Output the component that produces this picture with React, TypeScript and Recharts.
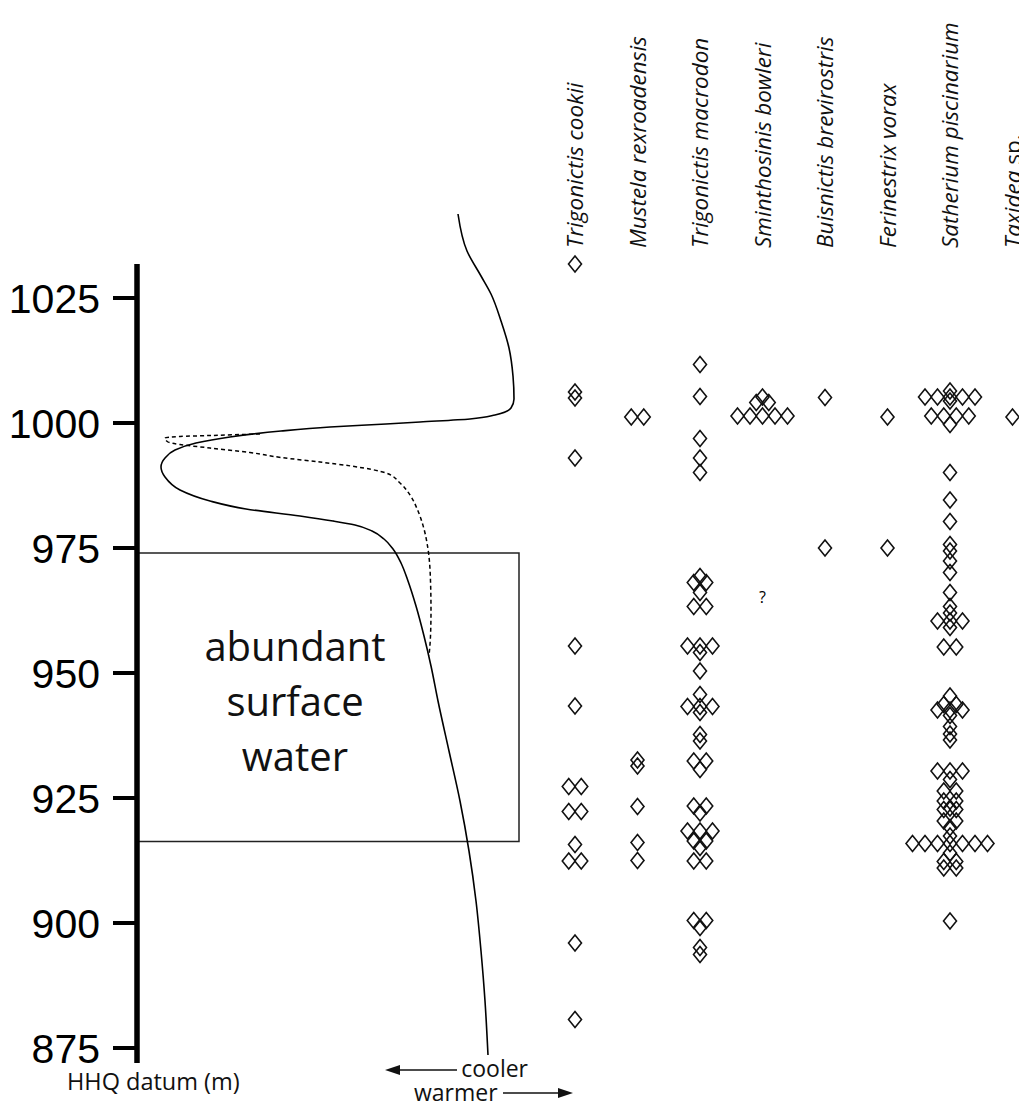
import React from 'react';
import { ScatterChart, Scatter, XAxis, YAxis, ReferenceArea, ReferenceLine, Customized } from 'recharts';

const taxa = [
  'Trigonictis cookii',
  'Mustela rexroadensis',
  'Trigonictis macrodon',
  'Sminthosinis bowleri',
  'Buisnictis brevirostris',
  'Ferinestrix vorax',
  'Satherium piscinarium',
  'Taxidea sp.',
];

// specimen elevations (m above HHQ datum); repeated values sit side by side
const trigonictisCookii = [1031.8, 1006.2, 1005.0, 993.0, 955.4, 943.4, 927.3, 927.3, 922.3, 922.3, 915.7, 912.4, 912.4, 896.0, 880.7];
const mustelaRexroadensis = [1001.2, 1001.2, 932.6, 931.4, 923.3, 916.1, 912.5];
const trigonictisMacrodon = [
  1011.7, 1005.3, 996.9, 993.0, 990.1, 969.3, 968.1, 968.1, 966.1, 963.3, 963.3, 955.4, 955.4, 955.4, 954.1,
  950.4, 945.7, 943.3, 943.3, 943.3, 942.1, 937.7, 936.4, 932.4, 932.4, 930.7, 923.4, 923.4, 922.0, 918.4,
  918.4, 918.4, 916.4, 916.4, 915.1, 912.4, 912.4, 900.5, 900.5, 899.1, 895.1, 893.7,
];
const sminthosinisBowleri = [1005.2, 1004.1, 1004.1, 1001.4, 1001.4, 1001.4, 1001.4, 1001.4];
const buisnictisBrevirostris = [1005.1, 975.0];
const ferinestrixVorax = [1001.2, 975.0];
const satheriumPiscinarium = [
  1006.4, 1005.2, 1005.2, 1005.2, 1005.2, 1005.2, 1004.4, 1001.4, 1001.4, 1001.4, 1001.4, 999.7, 990.1, 984.6,
  980.3, 975.7, 974.4, 972.4, 970.1, 966.1, 963.3, 962.0, 960.4, 960.4, 960.4, 959.1, 955.2, 955.2, 945.4,
  943.7, 943.7, 942.6, 942.6, 942.6, 941.5, 939.3, 937.8, 936.6, 930.4, 930.4, 930.4, 928.7, 926.4, 926.4,
  924.4, 924.4, 923.0, 922.7, 922.7, 920.4, 920.4, 919.1, 917.4, 915.9, 915.9, 915.9, 915.9, 915.9, 915.9,
  915.9, 914.0, 912.3, 912.3, 911.0, 911.0, 900.4,
];
const taxideaSp = [1001.2];

const occurrences = [
  trigonictisCookii,
  mustelaRexroadensis,
  trigonictisMacrodon,
  sminthosinisBowleri,
  buisnictisBrevirostris,
  ferinestrixVorax,
  satheriumPiscinarium,
  taxideaSp,
];

// questionable record
const uncertainRecords = [{ taxon: 3, elev: 965.0 }];

const elevationTicks = [875, 900, 925, 950, 975, 1000, 1025];

// relative temperature index (low = cooler) against elevation
const tempCurve = [
  { t: 32.1, elev: 1041.8 }, { t: 33.0, elev: 1034.4 }, { t: 34.4, elev: 1029.4 }, { t: 35.4, elev: 1025.8 },
  { t: 36.4, elev: 1020.4 }, { t: 37.2, elev: 1015.0 }, { t: 37.6, elev: 1009.4 }, { t: 37.7, elev: 1004.8 },
  { t: 37.4, elev: 1003.0 }, { t: 35.8, elev: 1001.6 }, { t: 33.3, elev: 1000.8 }, { t: 28.3, elev: 1000.2 },
  { t: 24.9, elev: 999.8 }, { t: 19.3, elev: 999.2 }, { t: 14.4, elev: 998.4 }, { t: 9.3, elev: 997.2 },
  { t: 5.9, elev: 996.0 }, { t: 3.8, elev: 994.6 }, { t: 2.8, elev: 993.0 }, { t: 2.4, elev: 991.2 },
  { t: 2.8, elev: 989.2 }, { t: 4.3, elev: 986.6 }, { t: 7.3, elev: 984.4 }, { t: 10.9, elev: 982.8 },
  { t: 16.3, elev: 981.4 }, { t: 19.6, elev: 980.4 }, { t: 21.8, elev: 979.6 }, { t: 23.5, elev: 978.4 },
  { t: 24.7, elev: 976.8 }, { t: 25.6, elev: 974.8 }, { t: 26.4, elev: 972.0 }, { t: 27.1, elev: 968.4 },
  { t: 27.9, elev: 963.4 }, { t: 28.7, elev: 957.4 }, { t: 29.4, elev: 951.4 }, { t: 30.1, elev: 944.4 },
  { t: 31.2, elev: 934.4 }, { t: 32.3, elev: 924.4 }, { t: 33.2, elev: 914.4 }, { t: 33.9, elev: 904.4 },
  { t: 34.4, elev: 894.4 }, { t: 34.8, elev: 884.4 }, { t: 35.1, elev: 873.6 },
];

const tempCurveAlt = [
  { t: 12.3, elev: 997.8 }, { t: 7.3, elev: 997.5 }, { t: 4.3, elev: 997.3 }, { t: 2.8, elev: 997.0 },
  { t: 3.1, elev: 996.2 }, { t: 4.3, elev: 995.7 }, { t: 7.3, elev: 995.0 }, { t: 11.3, elev: 994.1 },
  { t: 14.4, elev: 993.1 }, { t: 18.3, elev: 992.2 }, { t: 21.4, elev: 991.4 }, { t: 24.9, elev: 990.0 },
  { t: 26.3, elev: 988.0 }, { t: 27.3, elev: 985.6 }, { t: 28.1, elev: 982.4 }, { t: 28.7, elev: 978.8 },
  { t: 29.1, elev: 974.8 }, { t: 29.35, elev: 968.4 }, { t: 29.4, elev: 962.4 }, { t: 29.35, elev: 957.4 },
  { t: 29.2, elev: 953.4 },
];

const surfaceWater = { t: 38.2, from: 916.3, to: 974.0 };
const axisTop = 1031.8;

const SANS = '"Open Sans", sans-serif';
const ARIAL = '"Liberation Sans", Arial, sans-serif';

// spread equal elevations sideways so every specimen stays visible
const swarm = (elevs: number[], col: number) => {
  const counts = new Map<number, number>();
  elevs.forEach((e) => counts.set(e, (counts.get(e) || 0) + 1));
  const seen = new Map<number, number>();
  return elevs.map((e) => {
    const n = counts.get(e) || 1;
    const k = seen.get(e) || 0;
    seen.set(e, k + 1);
    return { sx: col + (k - (n - 1) / 2) * 0.2, elev: e };
  });
};

const Diamond = (props: any) => {
  const { cx, cy } = props;
  return (
    <path
      d={`M${cx},${cy - 8}L${cx + 6.5},${cy}L${cx},${cy + 8}L${cx - 6.5},${cy}Z`}
      fill="none"
      stroke="#111"
      strokeWidth={1.6}
    />
  );
};

const Question = (props: any) => (
  <text x={props.cx} y={props.cy + 5} textAnchor="middle" fontSize={16} fontFamily={SANS} fill="#000">?</text>
);

const NoDot = () => <g />;

const TaxonTick = (props: any) => {
  const { x, payload } = props;
  const name = taxa[payload.value];
  if (!name) return null;
  const isSp = name.endsWith(' sp.');
  return (
    <text
      transform={`translate(${x + 8},240) rotate(-90)`}
      fontSize={22.5}
      fontFamily={SANS}
      fontStyle="italic"
      fill="#111"
    >
      {isSp ? name.replace(' sp.', ' ') : name}
      {isSp && <tspan fontStyle="normal">sp.</tspan>}
    </text>
  );
};

const WaterLabel = (props: any) => {
  const vb = props.viewBox || {};
  const cx = vb.x + 158;
  return (
    <text textAnchor="middle" fontSize={40} fontFamily={SANS} fill="#111">
      <tspan x={cx} y={vb.y + 108}>abundant</tspan>
      <tspan x={cx} y={vb.y + 163}>surface</tspan>
      <tspan x={cx} y={vb.y + 218}>water</tspan>
    </text>
  );
};

// axis title and the cooler / warmer key under the plot
const Footer = () => (
  <g fill="#111" fontFamily={SANS}>
    <text x={59} y={1082} fontSize={23.5}>HHQ datum (m)</text>
    <line x1={389} y1={1062} x2={449} y2={1062} stroke="#111" strokeWidth={1.5} />
    <path d="M377,1062L392,1057L392,1067Z" />
    <text x={520} y={1069} fontSize={23} textAnchor="end">cooler</text>
    <text x={406} y={1093} fontSize={23}>warmer</text>
    <line x1={495} y1={1085} x2={552} y2={1085} stroke="#111" strokeWidth={1.5} />
    <path d="M565,1085L550,1080L550,1090Z" />
  </g>
);

export default function App() {
  return (
    <div style={{ width: 1019, height: 1099, background: '#fff' }}>
      <ScatterChart width={1019} height={1099} margin={{ top: 175, right: 8, bottom: 44, left: 9 }}>
        <XAxis
          xAxisId="temp"
          type="number"
          dataKey="t"
          domain={[0, 88.2]}
          allowDataOverflow
          hide
        />
        <XAxis
          xAxisId="taxa"
          type="number"
          dataKey="sx"
          orientation="top"
          domain={[-7.008, 7.104]}
          allowDataOverflow
          ticks={taxa.map((_, i) => i)}
          interval={0}
          height={30}
          axisLine={false}
          tickLine={false}
          tick={<TaxonTick />}
        />
        <YAxis
          type="number"
          dataKey="elev"
          domain={[872, 1042]}
          allowDataOverflow
          ticks={elevationTicks}
          width={120}
          axisLine={false}
          tickSize={24}
          tickMargin={13}
          tickLine={{ stroke: '#000', strokeWidth: 4 }}
          tick={{ fontSize: 41, fontFamily: ARIAL, fill: '#000' }}
        />
        <ReferenceArea
          xAxisId="temp"
          x1={0}
          x2={surfaceWater.t}
          y1={surfaceWater.from}
          y2={surfaceWater.to}
          fill="none"
          stroke="#222"
          strokeWidth={1.5}
          label={<WaterLabel />}
        />
        <ReferenceLine
          xAxisId="temp"
          segment={[{ x: 0, y: 872 }, { x: 0, y: axisTop }]}
          stroke="#000"
          strokeWidth={5.5}
        />
        <Scatter
          xAxisId="temp"
          data={tempCurve}
          line={{ stroke: '#000', strokeWidth: 1.6 }}
          lineJointType="monotoneY"
          shape={<NoDot />}
          isAnimationActive={false}
        />
        <Scatter
          xAxisId="temp"
          data={tempCurveAlt}
          line={{ stroke: '#000', strokeWidth: 1.5, strokeDasharray: '4 3' }}
          lineJointType="monotoneY"
          shape={<NoDot />}
          isAnimationActive={false}
        />
        {occurrences.map((elevs, i) => (
          <Scatter
            key={taxa[i]}
            xAxisId="taxa"
            data={swarm(elevs, i)}
            shape={<Diamond />}
            isAnimationActive={false}
          />
        ))}
        <Scatter
          xAxisId="taxa"
          data={uncertainRecords.map((r) => ({ sx: r.taxon, elev: r.elev }))}
          shape={<Question />}
          isAnimationActive={false}
        />
        <Customized component={<Footer />} />
      </ScatterChart>
    </div>
  );
}
